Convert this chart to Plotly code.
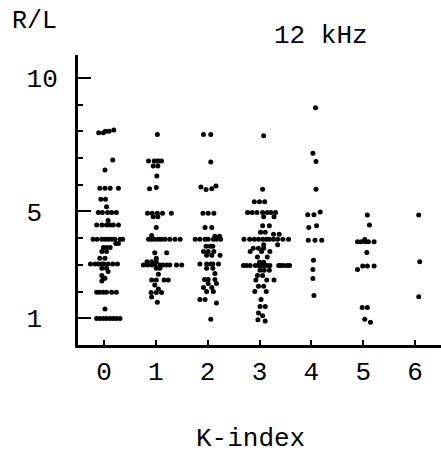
import plotly.graph_objects as go

# R/L ratio observations grouped by K-index (12 kHz).
# For every K-index: the measured values and a small horizontal spread
# (in K-index units) so that coincident points stay visible.
k_index = [0, 1, 2, 3, 4, 5, 6]

rl_k0 = [7.95, 7.95, 8.0, 8.0, 8.05, 6.93, 6.55,
         5.87, 5.87, 5.87, 5.87, 5.46, 5.46, 5.18,
         4.96, 4.96, 4.96, 4.96, 4.96, 4.66,
         4.49, 4.49, 4.49, 4.49, 4.49, 4.49,
         3.96, 3.96, 3.96, 3.96, 3.96, 3.96, 3.96, 3.96, 3.96,
         3.8, 3.8, 3.65, 3.65, 3.65, 3.5, 3.5, 3.25, 3.25,
         3.03, 3.03, 3.03, 3.03, 3.03, 3.03, 3.03, 3.03,
         2.87, 2.87, 2.75, 2.6, 2.5, 2.5, 2.4,
         1.98, 1.98, 1.98, 1.98, 1.98, 1.98, 1.35,
         0.99, 0.99, 0.99, 0.99, 0.99, 0.99, 0.99, 0.99]
dx_k0 = [-0.10, -0.01, 0.03, 0.10, 0.19, 0.17, 0.02,
         -0.08, 0.02, 0.12, 0.28, -0.06, 0.03, 0.05,
         -0.11, -0.03, 0.07, 0.15, 0.24, 0.08,
         -0.14, -0.04, 0.05, 0.12, 0.18, 0.28,
         -0.21, -0.13, -0.04, 0.02, 0.08, 0.15, 0.21, 0.31, 0.36,
         0.23, 0.28, -0.01, 0.05, 0.12, -0.04, 0.05, -0.08, 0.02,
         -0.26, -0.17, -0.11, -0.04, 0.00, 0.08, 0.17, 0.26,
         -0.04, 0.05, 0.08, -0.04, -0.01, 0.02, -0.04,
         -0.14, -0.08, -0.01, 0.05, 0.15, 0.24, 0.02,
         -0.14, -0.08, -0.01, 0.05, 0.12, 0.18, 0.24, 0.31]

rl_k1 = [7.88, 6.89, 6.89, 6.89, 6.89, 6.89, 6.7, 6.7, 6.33, 5.9, 5.85,
         4.93, 4.93, 4.93, 4.93, 4.93, 4.8, 4.8, 4.4, 4.1,
         3.96, 3.96, 3.96, 3.96, 3.96, 3.96, 3.96, 3.96, 3.96,
         3.45, 3.45, 3.25, 3.12, 3.12, 3.12,
         3.0, 3.0, 3.0, 3.0, 3.0, 3.0, 3.0, 3.0, 3.0, 3.0,
         2.87, 2.87, 2.65, 2.43, 2.43, 2.43, 2.43, 2.25, 2.1,
         1.97, 1.97, 1.97, 1.8, 1.6]
dx_k1 = [0.03, -0.14, -0.03, 0.02, 0.06, 0.11, -0.05, 0.04, 0.02, 0.01, -0.12,
         -0.16, -0.07, 0.03, 0.13, 0.30, -0.05, 0.04, 0.01, -0.08,
         -0.14, -0.08, -0.02, 0.05, 0.11, 0.18, 0.27, 0.37, 0.47,
         -0.02, 0.21, 0.01, -0.17, -0.08, 0.01,
         -0.24, -0.16, -0.08, -0.02, 0.08, 0.14, 0.21, 0.27, 0.40, 0.50,
         0.01, 0.08, 0.05, -0.08, 0.01, 0.16, 0.24, -0.02, 0.05,
         -0.09, 0.01, 0.11, -0.08, 0.03]

rl_k2 = [7.88, 7.88, 6.85, 5.92, 5.82, 5.85, 5.95,
         4.93, 4.93, 4.93, 4.4, 4.4, 4.07, 4.07,
         3.96, 3.96, 3.96, 3.96, 3.96, 3.96, 3.96,
         3.7, 3.7, 3.7, 3.5, 3.5, 3.5, 3.36, 3.36, 3.36,
         3.03, 3.03, 3.03, 3.03, 3.03, 2.87, 2.87, 2.68,
         2.45, 2.45, 2.45, 2.3, 2.3, 2.15, 2.15, 2.0, 2.0,
         1.7, 1.7, 1.57, 0.96]
dx_k2 = [-0.08, 0.06, 0.06, -0.13, -0.03, 0.08, 0.16,
         -0.09, 0.01, 0.12, -0.05, 0.08, 0.14, 0.23,
         -0.24, -0.15, -0.05, 0.01, 0.11, 0.17, 0.25,
         -0.03, 0.05, 0.10, -0.08, 0.01, 0.12, -0.02, 0.08, 0.24,
         -0.15, -0.02, 0.06, 0.10, 0.21, -0.02, 0.10, 0.14,
         -0.06, 0.01, 0.14, 0.01, 0.17, -0.08, 0.08, -0.02, 0.11,
         -0.15, -0.05, 0.17, 0.06]

rl_k3 = [7.84, 5.83, 5.36, 5.36, 5.36,
         4.96, 4.96, 4.96, 4.96, 4.96, 4.96, 4.96,
         4.8, 4.8, 4.47, 4.47, 4.22, 4.22, 4.15, 4.15,
         3.96, 3.96, 3.96, 3.96, 3.96, 3.96, 3.96, 3.96, 3.96, 3.96, 3.96,
         3.75, 3.75, 3.62, 3.62, 3.62, 3.5, 3.5, 3.5, 3.3, 3.3, 3.1, 3.1,
         2.98, 2.98, 2.98, 2.98, 2.98, 2.98, 2.98, 2.98, 2.98, 2.98, 2.98,
         2.98, 2.98, 2.98,
         2.8, 2.8, 2.8, 2.6, 2.6, 2.43, 2.43, 2.43, 2.2, 2.2, 2.0, 2.0,
         1.7, 1.44, 1.44, 1.2, 1.1, 0.95, 0.9]
dx_k3 = [0.08, 0.06, -0.10, 0.00, 0.10,
         -0.23, -0.14, -0.05, 0.06, 0.15, 0.22, 0.31,
         0.08, 0.28, 0.06, 0.19, 0.02, 0.11, 0.27, 0.38,
         -0.30, -0.19, -0.10, -0.02, 0.06, 0.13, 0.19, 0.27, 0.35, 0.45, 0.56,
         0.08, 0.35, -0.12, -0.02, 0.08, -0.18, 0.04, 0.20, -0.04, 0.15, 0.00, 0.08,
         -0.31, -0.25, -0.18, -0.08, -0.02, 0.03, 0.08, 0.14, 0.20, 0.37, 0.41,
         0.46, 0.53, 0.58,
         0.01, 0.09, 0.19, -0.04, 0.06, -0.07, 0.14, 0.28, -0.02, 0.08, -0.09, 0.13,
         0.03, 0.01, 0.11, -0.02, 0.06, -0.03, 0.11]

rl_k4 = [8.88, 7.18, 6.87, 5.83, 4.98, 4.88, 4.88, 4.47, 4.4,
         3.92, 3.92, 3.92, 3.17, 2.83, 2.49, 1.85]
dx_k4 = [0.08, 0.03, 0.09, 0.09, 0.17, -0.07, 0.05, 0.10, -0.05,
         -0.06, 0.07, 0.20, 0.04, 0.03, 0.03, 0.05]

rl_k5 = [4.87, 4.49, 3.95, 3.87, 3.87, 3.87, 3.87, 3.87, 3.46,
         2.96, 2.96, 2.96, 2.83, 1.4, 1.4, 0.96, 0.85]
dx_k5 = [0.08, 0.12, 0.03, -0.11, -0.04, 0.04, 0.10, 0.21, 0.07,
         -0.01, 0.08, 0.21, -0.11, -0.02, 0.08, 0.03, 0.14]

rl_k6 = [4.87, 3.12, 1.81]
dx_k6 = [0.07, 0.09, 0.07]

rl_groups = [rl_k0, rl_k1, rl_k2, rl_k3, rl_k4, rl_k5, rl_k6]
dx_groups = [dx_k0, dx_k1, dx_k2, dx_k3, dx_k4, dx_k5, dx_k6]

y_tick_vals = [1, 5, 10]
# single digits sit in the first column of the two-character slot
y_tick_text = ["1\u00a0", "5\u00a0", "10"]
x_tick_text = ["0", "1", "2", "3", "4", "5", "6"]

FONT = "Liberation Mono, Courier New, monospace"

xs, ys = [], []
for k, vals, offs in zip(k_index, rl_groups, dx_groups):
    for v, d in zip(vals, offs):
        xs.append(k + d)
        ys.append(v)

fig = go.Figure()
fig.add_trace(go.Scatter(
    x=xs, y=ys, mode="markers",
    marker=dict(color="black", size=5, line=dict(width=0)),
    showlegend=False, hoverinfo="skip",
))

fig.update_layout(
    width=441, height=455,
    margin=dict(l=78, r=0, t=55, b=110),
    paper_bgcolor="white", plot_bgcolor="white",
    font=dict(family=FONT, size=26, color="black"),
    showlegend=False,
    xaxis=dict(
        range=[-0.5, 6.5], showgrid=False, zeroline=False,
        showline=True, linecolor="black", linewidth=2.5,
        tickmode="array", tickvals=k_index, ticktext=x_tick_text,
        ticks="inside", ticklen=5, tickwidth=2, tickcolor="black",
        ticklabelstandoff=1,
        tickfont=dict(family=FONT, size=26, color="black"),
    ),
    yaxis=dict(
        range=[0, 10.86], showgrid=False, zeroline=False,
        showline=True, linecolor="black", linewidth=3,
        tickmode="array", tickvals=y_tick_vals, ticktext=y_tick_text,
        ticks="inside", ticklen=13, tickwidth=2, tickcolor="black",
        ticklabelstandoff=12,
        tickfont=dict(family=FONT, size=26, color="black"),
        minor=dict(tickmode="linear", tick0=0, dtick=1, ticks="inside",
                   ticklen=5, tickwidth=2, tickcolor="black", showgrid=False),
    ),
    annotations=[
        dict(text="R/L", xref="paper", yref="paper", x=-0.121, y=1.114,
             xanchor="center", yanchor="middle", showarrow=False,
             font=dict(family=FONT, size=25, color="black")),
        dict(text="12 kHz", xref="paper", yref="paper", x=0.669, y=1.066,
             xanchor="center", yanchor="middle", showarrow=False,
             font=dict(family=FONT, size=26, color="black")),
        dict(text="K-index", xref="paper", yref="paper", x=0.474, y=-0.324,
             xanchor="center", yanchor="middle", showarrow=False,
             font=dict(family=FONT, size=26, color="black")),
    ],
)

fig.write_html("out.html")
